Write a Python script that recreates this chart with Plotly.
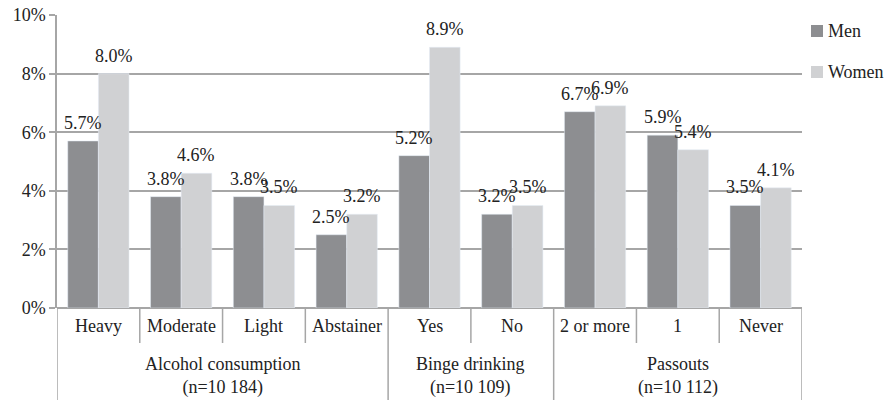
import plotly.graph_objects as go

categories = ["Heavy", "Moderate", "Light", "Abstainer", "Yes", "No", "2 or more", "1", "Never"]
men = [5.7, 3.8, 3.8, 2.5, 5.2, 3.2, 6.7, 5.9, 3.5]
women = [8.0, 4.6, 3.5, 3.2, 8.9, 3.5, 6.9, 5.4, 4.1]
groups = ["Alcohol consumption<br>(n=10 184)", "Binge drinking<br>(n=10 109)", "Passouts<br>(n=10 112)"]
group_spans = [(0, 3), (4, 5), (6, 8)]
y_ticks = [0, 2, 4, 6, 8, 10]
series_names = ["Men", "Women"]

FONT = "Liberation Serif"
GRID = "#a6a6a6"
MEN_C = "#8d8e91"
WOMEN_C = "#d0d1d3"
TXT = "#222222"
FS = 18

W, H = 891, 400
ML, MR, MT, MB = 57, 89, 15, 92
PW = W - ML - MR
PH = H - MT - MB
BARGAP = 0.26

x = list(range(len(categories)))
cat_px = PW / len(categories)
bar_px = cat_px * (1 - BARGAP) / 2

fig = go.Figure()
annotations = []
for k, (name, vals, col) in enumerate([(series_names[0], men, MEN_C), (series_names[1], women, WOMEN_C)]):
    fig.add_trace(go.Bar(x=x, y=vals, name=name, marker_color=col, showlegend=False, hoverinfo="skip"))
    shift = (k - 0.5) * bar_px
    for i, v in zip(x, vals):
        annotations.append(dict(x=i, y=v, xref="x", yref="y", text=f"{v:.1f}%", showarrow=False,
                                xanchor="center", yanchor="bottom", xshift=shift, yshift=6,
                                font=dict(family=FONT, size=FS, color=TXT)))

shapes = []
group_edges = [s - 0.5 for s, e in group_spans] + [len(categories) - 0.5]
for i in range(len(categories) + 1):
    xb = i - 0.5
    is_group = any(abs(xb - g) < 1e-9 for g in group_edges)
    y1 = -(MB + 5) / PH if is_group else -35 / PH
    shapes.append(dict(type="line", xref="x", yref="paper", x0=xb, x1=xb, y0=0, y1=y1,
                       line=dict(color=GRID, width=1.5)))

for i, c in enumerate(categories):
    annotations.append(dict(x=i, y=0, xref="x", yref="paper", text=c, showarrow=False,
                            yanchor="middle", yshift=-18,
                            font=dict(family=FONT, size=FS, color=TXT)))
for g, (s, e) in zip(groups, group_spans):
    annotations.append(dict(x=(s + e) / 2, y=0, xref="x", yref="paper", text=g, showarrow=False,
                            yanchor="middle", yshift=-68,
                            font=dict(family=FONT, size=FS, color=TXT)))

def px_x(px):
    return (px - ML) / PW

def px_y(py):
    return (H - MB - py) / PH

for name, col, cy in [(series_names[0], MEN_C, 31), (series_names[1], WOMEN_C, 72)]:
    shapes.append(dict(type="rect", xref="paper", yref="paper",
                       x0=px_x(811), x1=px_x(823), y0=px_y(cy + 6), y1=px_y(cy - 6),
                       fillcolor=col, line=dict(width=0)))
    annotations.append(dict(x=px_x(826), y=px_y(cy), xref="paper", yref="paper", text=name,
                            showarrow=False, xanchor="left", yanchor="middle",
                            font=dict(family=FONT, size=FS, color=TXT)))

fig.update_layout(
    width=W, height=H,
    margin=dict(l=ML, r=MR, t=MT, b=MB, pad=0),
    plot_bgcolor="white", paper_bgcolor="white",
    barmode="group", bargap=BARGAP, bargroupgap=0,
    font=dict(family=FONT, size=FS, color=TXT),
    showlegend=False,
    xaxis=dict(range=[-0.5, len(categories) - 0.5], showticklabels=False, showgrid=False,
               zeroline=False, showline=False, ticks="", automargin=False),
    yaxis=dict(range=[0, 10], tickvals=y_ticks, ticktext=[f"{v}%" for v in y_ticks],
               showgrid=True, gridcolor=GRID, gridwidth=1.5, zeroline=True,
               zerolinecolor=GRID, zerolinewidth=1.5,
               showline=True, linecolor=GRID, linewidth=1.5,
               ticks="outside", ticklen=6, tickcolor=GRID, tickwidth=1.5,
               automargin=False,
               tickfont=dict(family=FONT, size=FS, color=TXT)),
    shapes=shapes, annotations=annotations,
)

fig.write_html("out.html", config={"displayModeBar": False},
               post_script="document.body.style.margin='0';document.body.style.padding='0';")
